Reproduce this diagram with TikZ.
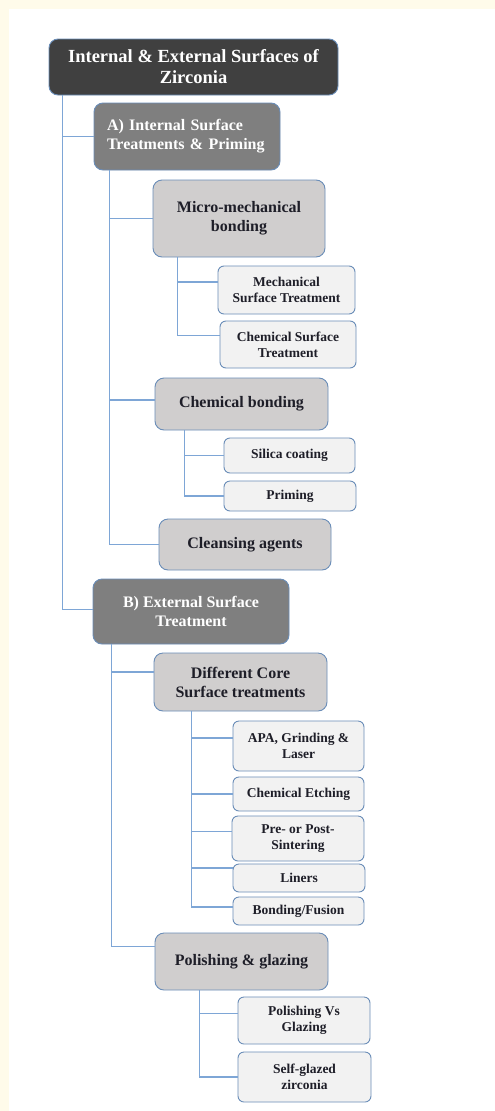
\documentclass[tikz,border=0pt]{standalone}
\usepackage{fontspec}
\setmainfont{Liberation Serif}
\usepackage{xcolor}
\definecolor{cream}{RGB}{255, 251, 234}
\definecolor{edge}{RGB}{106, 141, 184}
\definecolor{link}{RGB}{126, 166, 214}
\definecolor{rootfill}{RGB}{64, 64, 64}
\definecolor{midfill}{RGB}{127, 127, 127}
\definecolor{subfill}{RGB}{208, 206, 206}
\definecolor{leaffill}{RGB}{242, 242, 242}
\definecolor{ink}{RGB}{30, 30, 40}

\tikzset{
  box/.style={draw=edge, line width=0.9pt, rounded corners=9pt, align=center, inner sep=2pt, font=\bfseries},
  rootbox/.style={box, fill=rootfill, text=white, font=\bfseries\fontsize{18.5}{21}\selectfont},
  midbox/.style={box, fill=midfill, text=white, font=\bfseries\fontsize{16}{19}\selectfont},
  subbox/.style={box, fill=subfill, text=ink, font=\bfseries\fontsize{16}{19}\selectfont},
  leafbox/.style={box, fill=leaffill, text=ink, rounded corners=6pt, font=\bfseries\fontsize{13.5}{16}\selectfont},
  conn/.style={draw=link, line width=1.1pt}
}

\begin{document}
\begin{tikzpicture}[x=1pt, y=-1pt]
    % page
    \fill[cream] (0,0) rectangle (495,1111);
    \fill[white] (9,9) rectangle (495,1111);
    \useasboundingbox (0,0) rectangle (495,1111);

    % top
    \node[rootbox, minimum width=289, minimum height=56] (root) at (193.5, 67) {Internal \& External Surfaces of\\Zirconia};

    % A) internal
    \node[midbox, minimum height=67, text width=160, inner xsep=13pt, align=left] (intr) at (187, 136.5) {A) Internal Surface\\Treatments \& Priming};
    \node[subbox, minimum width=172, minimum height=77] (micro) at (239, 218.5) {Micro-mechanical\\bonding};
    \node[leafbox, minimum width=137, minimum height=48] (mech) at (286.5, 290) {Mechanical\\Surface Treatment};
    \node[leafbox, minimum width=136, minimum height=47] (chemsurf) at (288, 344.5) {Chemical Surface\\Treatment};
    \node[subbox, minimum width=173, minimum height=52] (chembond) at (241.5, 404) {Chemical bonding};
    \node[leafbox, minimum width=131, minimum height=35] (silica) at (289.5, 455.5) {Silica coating};
    \node[leafbox, minimum width=132, minimum height=30] (priming) at (290, 496) {Priming};
    \node[subbox, minimum width=172, minimum height=51] (cleans) at (245, 544.5) {Cleansing agents};

    % B) external
    \node[midbox, minimum width=196, minimum height=65] (extr) at (191, 611.5) {B) External Surface\\Treatment};
    \node[subbox, minimum width=173, minimum height=58] (core) at (240.5, 682) {Different Core\\Surface treatments};
    \node[leafbox, minimum width=131, minimum height=50] (apa) at (298.5, 746) {APA, Grinding \&\\Laser};
    \node[leafbox, minimum width=131, minimum height=34] (etch) at (298.5, 794) {Chemical Etching};
    \node[leafbox, minimum width=132, minimum height=45] (sinter) at (298, 838.5) {Pre- or Post-\\Sintering};
    \node[leafbox, minimum width=132, minimum height=28] (liners) at (299, 878) {Liners};
    \node[leafbox, minimum width=131, minimum height=28] (fusion) at (298.5, 911) {Bonding/Fusion};
    \node[subbox, minimum width=173, minimum height=57] (polish) at (241.5, 961.5) {Polishing \& glazing};
    \node[leafbox, minimum width=132, minimum height=47] (vsglaze) at (304, 1020.5) {Polishing Vs\\Glazing};
    \node[leafbox, minimum width=133, minimum height=50] (selfglaze) at (304.5, 1077) {Self-glazed\\zirconia};

    % links
    \draw[conn] ([xshift=14pt]root.south west) |- (intr.west);
    \draw[conn] ([xshift=14pt]root.south west) |- ([yshift=2pt]extr.west);
    \draw[conn] ([xshift=16pt]intr.south west) |- (micro.west);
    \draw[conn] ([xshift=16pt]intr.south west) |- ([yshift=4pt]chembond.west);
    \draw[conn] ([xshift=16pt]intr.south west) |- (cleans.west);
    \draw[conn] ([xshift=25pt]micro.south west) |- ([yshift=8pt]mech.west);
    \draw[conn] ([xshift=25pt]micro.south west) |- ([yshift=9pt]chemsurf.west);
    \draw[conn] ([xshift=30pt]chembond.south west) |- (silica.west);
    \draw[conn] ([xshift=30pt]chembond.south west) |- (priming.west);
    \draw[conn] ([xshift=19pt]extr.south west) |- ([yshift=10pt]core.west);
    \draw[conn] ([xshift=19pt]extr.south west) |- ([yshift=15pt]polish.west);
    \draw[conn] ([xshift=38pt]core.south west) |- ([yshift=8pt]apa.west);
    \draw[conn] ([xshift=38pt]core.south west) |- (etch.west);
    \draw[conn] ([xshift=38pt]core.south west) |- ([yshift=7pt]sinter.west);
    \draw[conn] ([xshift=38pt]core.south west) |- ([yshift=10pt]liners.west);
    \draw[conn] ([xshift=38pt]core.south west) |- ([yshift=4pt]fusion.west);
    \draw[conn] ([xshift=45pt]polish.south west) |- ([yshift=7pt]vsglaze.west);
    \draw[conn] ([xshift=45pt]polish.south west) |- (selfglaze.west);
\end{tikzpicture}
\end{document}
